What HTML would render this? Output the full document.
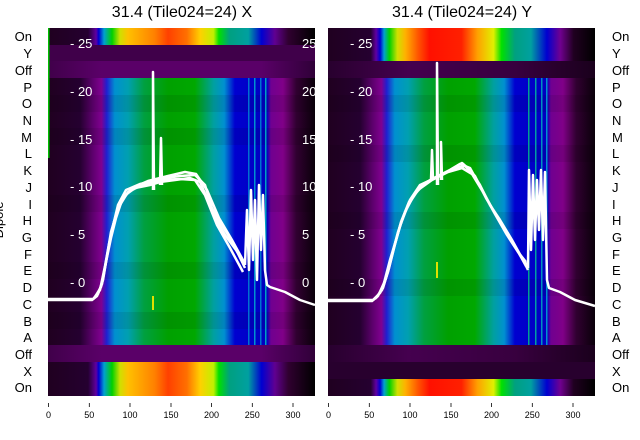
<!DOCTYPE html>
<html><head><meta charset="utf-8"><style>
body{margin:0;background:#fff;}
svg{display:block;font-family:"Liberation Sans","DejaVu Sans",sans-serif;}
</style></head><body>
<svg width="640" height="440" viewBox="0 0 640 440" xmlns="http://www.w3.org/2000/svg">
<defs>
<linearGradient id="main" x1="0" x2="1" y1="0" y2="0">
<stop offset="0" stop-color="#200020"/><stop offset="0.12" stop-color="#250030"/>
<stop offset="0.17" stop-color="#600070"/><stop offset="0.2" stop-color="#800090"/>
<stop offset="0.22" stop-color="#2020d0"/><stop offset="0.25" stop-color="#0090d0"/>
<stop offset="0.3" stop-color="#00a0b0"/><stop offset="0.36" stop-color="#00a040"/>
<stop offset="0.45" stop-color="#00a000"/><stop offset="0.55" stop-color="#00a800"/>
<stop offset="0.62" stop-color="#00a0a0"/><stop offset="0.66" stop-color="#0090d0"/>
<stop offset="0.7" stop-color="#0000d0"/><stop offset="0.82" stop-color="#0000c0"/>
<stop offset="0.835" stop-color="#700090"/><stop offset="0.88" stop-color="#800088"/>
<stop offset="0.93" stop-color="#300030"/><stop offset="1" stop-color="#0a000a"/>
</linearGradient>
<linearGradient id="on1" x1="0" x2="1" y1="0" y2="0">
<stop offset="0" stop-color="#200020"/><stop offset="0.15" stop-color="#250030"/>
<stop offset="0.18" stop-color="#6000a0"/><stop offset="0.19" stop-color="#0000d0"/>
<stop offset="0.21" stop-color="#00a0d0"/><stop offset="0.24" stop-color="#00d000"/>
<stop offset="0.27" stop-color="#d0e000"/><stop offset="0.3" stop-color="#ffc000"/>
<stop offset="0.4" stop-color="#ff8000"/><stop offset="0.45" stop-color="#ff4000"/>
<stop offset="0.52" stop-color="#ff7000"/><stop offset="0.57" stop-color="#ffd000"/>
<stop offset="0.62" stop-color="#c0f000"/><stop offset="0.64" stop-color="#00e000"/>
<stop offset="0.68" stop-color="#00a080"/><stop offset="0.75" stop-color="#00a0a0"/>
<stop offset="0.8" stop-color="#0000d0"/><stop offset="0.85" stop-color="#600090"/>
<stop offset="0.9" stop-color="#300030"/><stop offset="1" stop-color="#000000"/>
</linearGradient>
<linearGradient id="on2" x1="0" x2="1" y1="0" y2="0">
<stop offset="0" stop-color="#200020"/><stop offset="0.16" stop-color="#250030"/>
<stop offset="0.18" stop-color="#6000a0"/><stop offset="0.195" stop-color="#0000d0"/>
<stop offset="0.21" stop-color="#00a0d0"/><stop offset="0.23" stop-color="#00d000"/>
<stop offset="0.26" stop-color="#d0e000"/><stop offset="0.29" stop-color="#ffb000"/>
<stop offset="0.34" stop-color="#ff5000"/><stop offset="0.38" stop-color="#ff1000"/>
<stop offset="0.5" stop-color="#ff2000"/><stop offset="0.56" stop-color="#ffa000"/>
<stop offset="0.62" stop-color="#e0f000"/><stop offset="0.65" stop-color="#00e000"/>
<stop offset="0.7" stop-color="#00a080"/><stop offset="0.76" stop-color="#00a0a0"/>
<stop offset="0.82" stop-color="#0000d0"/><stop offset="0.87" stop-color="#700090"/>
<stop offset="0.92" stop-color="#200020"/><stop offset="1" stop-color="#000000"/>
</linearGradient>
<linearGradient id="off1" x1="0" x2="1"><stop offset="0" stop-color="#40004a"/><stop offset="0.2" stop-color="#5a0068"/><stop offset="0.8" stop-color="#5a0068"/><stop offset="1" stop-color="#300038"/></linearGradient>
<linearGradient id="dk2" x1="0" x2="1"><stop offset="0" stop-color="#28002e"/><stop offset="0.3" stop-color="#45004f"/><stop offset="0.7" stop-color="#38003f"/><stop offset="1" stop-color="#1a001c"/></linearGradient>
</defs>

<!-- Panel 1 -->
<g>
<rect x="48" y="28" width="267" height="368" fill="url(#main)"/>
<rect x="48" y="28" width="267" height="17" fill="url(#on1)"/>
<rect x="48" y="45" width="267" height="17" fill="#40004a"/>
<rect x="48" y="61" width="267" height="17" fill="url(#off1)"/>
<rect x="48" y="345" width="267" height="17" fill="url(#off1)"/>
<rect x="48" y="362" width="267" height="34" fill="url(#on1)"/>
<g fill="#000" opacity="0.08">
<rect x="48" y="95" width="267" height="17"/><rect x="48" y="128" width="267" height="17"/>
<rect x="48" y="195" width="267" height="17"/><rect x="48" y="262" width="267" height="17"/>
<rect x="48" y="312" width="267" height="17"/>
</g>
<rect x="248" y="78" width="1.5" height="267" fill="#0070d0"/>
<rect x="254" y="78" width="1.5" height="267" fill="#0090d0"/>
<rect x="260" y="78" width="1.5" height="267" fill="#0070d0"/>
<rect x="265" y="78" width="1.5" height="267" fill="#00a0c0"/>
<rect x="48" y="28" width="1.5" height="130" fill="#00c000"/>
<rect x="152" y="296" width="2" height="14" fill="#e0e000"/>
<g fill="none" stroke="#fff" stroke-width="2.5" stroke-linejoin="round">
<polyline points="48,300 92,300 97,296 102,284 106,262 110,240 114,222 120,205 128,192 140,186 155,182 165,178 180,176 195,175 205,185 214,215 225,235 236,250 245,265"/>
<polyline points="48,299 93,299 98,294 103,280 107,256 111,232 116,215 124,196 135,188 150,185 160,182 175,180 190,178 200,182 210,205 222,225 234,245 245,268"/>
<polyline points="94,298 100,290 105,266 109,244 113,226 118,205 126,190 140,184 160,180 180,179 195,180 205,195 217,225 230,248 243,272"/>
<polyline points="95,297 101,287 106,262 111,238 116,218 122,200 132,188 148,181 168,176 185,172 196,174 207,190 219,218 232,240 244,262"/>
<polyline points="245,265 247,210 249,270 251,190 253,260 255,200 257,280 259,185 261,250 263,195 265,270 267,285 270,287 285,292 300,300 315,305"/>
<polyline points="153,190 153,72 154,190" stroke-width="2.5"/>
<polyline points="160,185 161,138 162,185"/>
</g>
<g fill="#fff" font-size="13">
<text x="70" y="48">- 25</text><text x="70" y="96">- 20</text><text x="70" y="144">- 15</text>
<text x="70" y="191">- 10</text><text x="70" y="239">- 5</text><text x="70" y="287">- 0</text>
<text x="302" y="48">25</text><text x="302" y="96">20</text><text x="302" y="144">15</text>
<text x="302" y="191">10</text><text x="302" y="239">5</text><text x="302" y="287">0</text>
</g>
</g>

<!-- Panel 2 -->
<g>
<rect x="328" y="28" width="267" height="368" fill="url(#main)"/>
<rect x="328" y="28" width="267" height="33" fill="url(#on2)"/>
<rect x="328" y="61" width="267" height="17" fill="url(#dk2)"/>
<rect x="328" y="345" width="267" height="17" fill="url(#dk2)"/>
<rect x="328" y="362" width="267" height="17" fill="#28002e"/>
<rect x="328" y="379" width="267" height="17" fill="url(#on2)"/>
<g fill="#000" opacity="0.08">
<rect x="328" y="95" width="267" height="17"/><rect x="328" y="145" width="267" height="17"/>
<rect x="328" y="212" width="267" height="17"/><rect x="328" y="279" width="267" height="17"/>
</g>
<rect x="528" y="78" width="1.5" height="267" fill="#00a090"/>
<rect x="535" y="78" width="1.5" height="267" fill="#00a0a0"/>
<rect x="541" y="78" width="1.5" height="267" fill="#0090c0"/>
<rect x="546" y="78" width="1.5" height="267" fill="#0090d0"/>
<rect x="436" y="262" width="2" height="16" fill="#e0e000"/>
<g fill="none" stroke="#fff" stroke-width="2.5" stroke-linejoin="round">
<polyline points="328,301 372,301 378,296 384,283 390,260 396,240 402,220 410,200 420,185 435,178 450,170 462,163 470,170 480,185 490,205 500,220 512,240 522,258 528,270"/>
<polyline points="328,300 373,300 380,293 386,278 392,255 398,232 405,212 414,195 425,183 440,175 455,168 465,166 475,176 486,198 498,218 510,238 520,255 527,265"/>
<polyline points="375,299 382,290 388,272 394,248 400,226 408,205 418,190 432,180 448,172 462,168 472,174 483,192 495,214 507,235 518,252 526,262"/>
<polyline points="376,298 383,288 389,268 395,244 401,222 409,202 420,186 434,178 450,170 460,164 470,168 481,188 493,210 505,230 516,248 526,266"/>
<polyline points="528,268 529,170 531,250 533,175 535,240 537,180 539,230 541,170 543,240 545,172 547,280 549,288 560,292 575,300 595,306"/>
<polyline points="437,185 437,63 438,185" stroke-width="2.5"/>
<polyline points="431,180 432,150 433,180"/>
<polyline points="441,180 441,142 442,180"/>
</g>
<g fill="#fff" font-size="13">
<text x="350" y="48">- 25</text><text x="350" y="96">- 20</text><text x="350" y="144">- 15</text>
<text x="350" y="191">- 10</text><text x="350" y="239">- 5</text><text x="350" y="287">- 0</text>
</g>
</g>

<!-- Titles -->
<text x="182" y="17" font-size="16" text-anchor="middle" fill="#000">31.4 (Tile024=24) X</text>
<text x="462" y="17" font-size="16" text-anchor="middle" fill="#000">31.4 (Tile024=24) Y</text>

<!-- Row labels -->
<g font-size="13" fill="#000">
<g text-anchor="end">
<text x="32" y="41">On</text><text x="32" y="58">Y</text><text x="32" y="75">Off</text>
<text x="32" y="92">P</text><text x="32" y="108">O</text><text x="32" y="125">N</text>
<text x="32" y="142">M</text><text x="32" y="158">L</text><text x="32" y="175">K</text>
<text x="32" y="192">J</text><text x="32" y="209">I</text><text x="32" y="225">H</text>
<text x="32" y="242">G</text><text x="32" y="259">F</text><text x="32" y="275">E</text>
<text x="32" y="292">D</text><text x="32" y="309">C</text><text x="32" y="326">B</text>
<text x="32" y="342">A</text><text x="32" y="359">Off</text><text x="32" y="376">X</text>
<text x="32" y="392">On</text>
</g>
<g>
<text x="612" y="41">On</text><text x="612" y="58">Y</text><text x="612" y="75">Off</text>
<text x="612" y="92">P</text><text x="612" y="108">O</text><text x="612" y="125">N</text>
<text x="612" y="142">M</text><text x="612" y="158">L</text><text x="612" y="175">K</text>
<text x="612" y="192">J</text><text x="612" y="209">I</text><text x="612" y="225">H</text>
<text x="612" y="242">G</text><text x="612" y="259">F</text><text x="612" y="275">E</text>
<text x="612" y="292">D</text><text x="612" y="309">C</text><text x="612" y="326">B</text>
<text x="612" y="342">A</text><text x="612" y="359">Off</text><text x="612" y="376">X</text>
<text x="612" y="392">On</text>
</g>
<text transform="translate(3,220) rotate(-90)" text-anchor="middle" font-size="13">Dipole</text>
</g>

<!-- X ticks -->
<g stroke="#000" stroke-width="0.8">
<line x1="48.5" y1="403" x2="48.5" y2="407"/><line x1="89.3" y1="403" x2="89.3" y2="407"/>
<line x1="130" y1="403" x2="130" y2="407"/><line x1="171" y1="403" x2="171" y2="407"/>
<line x1="211.5" y1="403" x2="211.5" y2="407"/><line x1="252.3" y1="403" x2="252.3" y2="407"/>
<line x1="293" y1="403" x2="293" y2="407"/>
<line x1="328.5" y1="403" x2="328.5" y2="407"/><line x1="369.3" y1="403" x2="369.3" y2="407"/>
<line x1="410" y1="403" x2="410" y2="407"/><line x1="451" y1="403" x2="451" y2="407"/>
<line x1="491.5" y1="403" x2="491.5" y2="407"/><line x1="532.3" y1="403" x2="532.3" y2="407"/>
<line x1="573" y1="403" x2="573" y2="407"/>
</g>
<g font-size="9" fill="#000" text-anchor="middle">
<text x="48.5" y="418">0</text><text x="89.3" y="418">50</text><text x="130" y="418">100</text>
<text x="171" y="418">150</text><text x="211.5" y="418">200</text><text x="252.3" y="418">250</text>
<text x="293" y="418">300</text>
<text x="328.5" y="418">0</text><text x="369.3" y="418">50</text><text x="410" y="418">100</text>
<text x="451" y="418">150</text><text x="491.5" y="418">200</text><text x="532.3" y="418">250</text>
<text x="573" y="418">300</text>
</g>
</svg>
</body></html>
